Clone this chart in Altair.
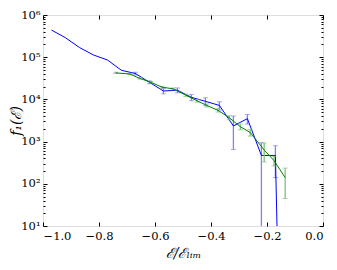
import altair as alt
import pandas as pd

# ---- data ----
blue_x = [-0.97, -0.92, -0.87, -0.82, -0.77, -0.72, -0.67, -0.62, -0.57, -0.52,
          -0.47, -0.42, -0.37, -0.32, -0.27, -0.22, -0.17, -0.12]
blue_y = [440000, 290000, 170000, 113000, 86000, 49000, 41000, 25500, 15800, 16500,
          11200, 9000, 7200, 2350, 3500, 470, 470, 1e-12]
blue_lo = [None, None, None, None, None, None, 38000, 23500, 13600, 14300,
           9300, 7100, 5600, 650, 2600, 1e-12, 140, None]
blue_hi = [None, None, None, None, None, None, 44000, 27500, 18000, 18700,
           13100, 10900, 8800, 4050, 4400, 940, 800, None]

green_x = [-0.74, -0.69, -0.655, -0.615, -0.575, -0.535, -0.49, -0.45, -0.415,
           -0.375, -0.335, -0.295, -0.26, -0.21, -0.175, -0.135]
green_y = [42500, 40000, 31600, 25500, 19500, 17800, 12600, 9300, 7200,
           5500, 3700, 2250, 1650, 630, 355, 140]
green_err = [1500, 1500, 1300, 1100, 1000, 900, 800, 700, 600,
             500, 400, 350, 300, 300, 90, 95]

x_ticks = [-1.0, -0.8, -0.6, -0.4, -0.2, 0.0]
y_major = [10, 100, 1000, 10000, 100000, 1000000]
y_minor = [m * d for d in [10, 100, 1000, 10000, 100000] for m in range(2, 10)]

blue_df = pd.DataFrame({"x": blue_x, "y": blue_y})
blue_err = pd.DataFrame({"x": blue_x, "lo": blue_lo, "hi": blue_hi}).dropna()
green_df = pd.DataFrame({"x": green_x, "y": green_y,
                         "lo": [v - e for v, e in zip(green_y, green_err)],
                         "hi": [v + e for v, e in zip(green_y, green_err)]})

W, H = 280, 211
FONT = "DejaVu Serif"

xs = alt.Scale(domain=[-1, 0], nice=False, zero=False)
ys = alt.Scale(type="log", domain=[10, 1e6], nice=False)

def xq(field, axis=None):
    return alt.X(f"{field}:Q", scale=xs, axis=axis)

def yq(field, axis=None):
    return alt.Y(f"{field}:Q", scale=ys, axis=axis)

BLUE = "#0000ff"
BLUE_L = "#8080ff"
GREEN = "#008000"
GREEN_L = "#80c080"

# data layers
b_bars = alt.Chart(blue_err).mark_rule(color=BLUE_L, strokeWidth=1.3, clip=True).encode(
    x=xq("x"), y=yq("lo"), y2="hi")
b_cap_lo = alt.Chart(blue_err).mark_tick(color=BLUE_L, orient="horizontal", size=5,
                                         thickness=1, clip=True).encode(x=xq("x"), y=yq("lo"))
b_cap_hi = alt.Chart(blue_err).mark_tick(color=BLUE_L, orient="horizontal", size=5,
                                         thickness=1, clip=True).encode(x=xq("x"), y=yq("hi"))
b_line = alt.Chart(blue_df).mark_line(color=BLUE, strokeWidth=1, clip=True).encode(
    x=xq("x"), y=yq("y"))

g_bars = alt.Chart(green_df).mark_rule(color=GREEN_L, strokeWidth=1.3, clip=True).encode(
    x=xq("x"), y=yq("lo"), y2="hi")
g_cap_lo = alt.Chart(green_df).mark_tick(color=GREEN_L, orient="horizontal", size=5,
                                         thickness=1, clip=True).encode(x=xq("x"), y=yq("lo"))
g_cap_hi = alt.Chart(green_df).mark_tick(color=GREEN_L, orient="horizontal", size=5,
                                         thickness=1, clip=True).encode(x=xq("x"), y=yq("hi"))
g_line = alt.Chart(green_df).mark_line(color=GREEN, strokeWidth=1, clip=True).encode(
    x=xq("x"), y=yq("y"))

# axis layers (invisible points carrying the axes)
ghost = alt.Chart(blue_df).mark_point(opacity=0)

x_label_axis = alt.Axis(orient="bottom", values=x_ticks, format=".1f", ticks=False, tickSize=0,
                        domain=False, grid=False, labelFont=FONT, labelFontSize=11.5,
                        labelColor="black", labelPadding=4,
                        title="ℰ/ℰₗᵢₘ", titleFont=FONT, titleFontSize=14,
                        titleFontStyle="italic", titleFontWeight="normal",
                        titleColor="black", titlePadding=5)
x_tick_bottom = alt.Axis(orient="top", offset=-H, values=x_ticks, labels=False, domain=False,
                         grid=False, ticks=True, tickSize=4, tickColor="black", title=None)
x_tick_top = alt.Axis(orient="bottom", offset=-H, values=x_ticks, labels=False, domain=False,
                      grid=False, ticks=True, tickSize=4, tickColor="black", title=None)

sup = "['⁰','¹','²','³','⁴','⁵','⁶'][round(log(datum.value)/LN10)]"
y_label_axis = alt.Axis(orient="left", values=y_major, labelExpr="'10' + " + sup,
                        ticks=False, tickSize=0, domain=False, grid=False,
                        labelFont=FONT, labelFontSize=11.5, labelColor="black",
                        labelPadding=3, title="f₁(ℰ)", titleFont=FONT, titleFontSize=14,
                        titleFontStyle="italic", titleFontWeight="normal",
                        titleColor="black", titleX=-27, titleY=H / 2, titleAngle=270,
                        titleAlign="center", titleBaseline="middle")
y_tick_left = alt.Axis(orient="right", offset=-W, values=y_major, labels=False, domain=False,
                       grid=False, tickSize=4, tickColor="black", title=None)
y_minor_left = alt.Axis(orient="right", offset=-W, values=y_minor, labels=False, domain=False,
                        grid=False, tickSize=2, tickColor="black", title=None)
y_tick_right = alt.Axis(orient="left", offset=-W, values=y_major, labels=False, domain=False,
                        grid=False, tickSize=4, tickColor="black", title=None)
y_minor_right = alt.Axis(orient="left", offset=-W, values=y_minor, labels=False, domain=False,
                         grid=False, tickSize=2, tickColor="black", title=None)

axis_layers = [
    ghost.encode(x=xq("x", x_label_axis), y=yq("y")),
    ghost.encode(x=xq("x", x_tick_bottom), y=yq("y")),
    ghost.encode(x=xq("x", x_tick_top), y=yq("y")),
    ghost.encode(x=xq("x"), y=yq("y", y_label_axis)),
    ghost.encode(x=xq("x"), y=yq("y", y_tick_left)),
    ghost.encode(x=xq("x"), y=yq("y", y_minor_left)),
    ghost.encode(x=xq("x"), y=yq("y", y_tick_right)),
    ghost.encode(x=xq("x"), y=yq("y", y_minor_right)),
]

chart = alt.layer(
    *axis_layers,
    b_bars, b_cap_lo, b_cap_hi, b_line,
    g_bars, g_cap_lo, g_cap_hi, g_line,
).resolve_axis(x="independent", y="independent").properties(
    width=W, height=H,
    autosize=alt.AutoSizeParams(type="none"),
    padding={"left": 35, "top": 7, "right": 6, "bottom": 36},
).configure_view(stroke="black", strokeWidth=1).configure(background="white")

chart.save("out.html", embed_options={"renderer": "svg", "actions": False})
